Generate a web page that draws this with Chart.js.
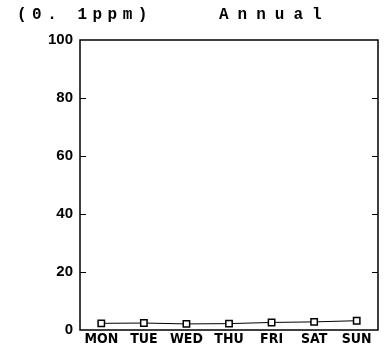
<!DOCTYPE html>
<html>
<head>
<meta charset="utf-8">
<script src="https://cdn.jsdelivr.net/npm/chart.js@4"></script>
<style>
  html, body { margin: 0; padding: 0; background: #fff; }
  #wrap { position: relative; width: 384px; height: 353px; }
  .lbl { position: absolute; font-family: 'Liberation Mono', monospace; font-size: 16px; font-weight: bold; color: #000; white-space: pre; }
</style>
</head>
<body>
<div id="wrap">
  <canvas id="chart" width="384" height="353"></canvas>
  <div class="lbl" style="left:17px; top:6px; letter-spacing:5.5px;">(0. 1ppm)</div>
  <div class="lbl" style="left:219px; top:6px; letter-spacing:9px;">Annual</div>
</div>
<script>
// weekday labels and annual means (unit: 0.1 ppm)
const days = ['MON', 'TUE', 'WED', 'THU', 'FRI', 'SAT', 'SUN'];
const annual = [2.3, 2.4, 2.1, 2.2, 2.6, 2.8, 3.2];
const yTicks = [0, 20, 40, 60, 80, 100];

// box frame plus small inward ticks on both sides
const frame = {
    id: 'frame',
    afterDatasetsDraw(chart) {
        const { ctx, chartArea: a, scales } = chart;
        ctx.save();
        ctx.strokeStyle = '#000';
        ctx.lineWidth = 1.5;
        ctx.strokeRect(a.left, a.top, a.right - a.left, a.bottom - a.top);
        ctx.lineWidth = 1;
        yTicks.forEach(v => {
            if (v === 0 || v === 100) return;
            const y = Math.round(scales.y.getPixelForValue(v)) + 0.5;
            ctx.beginPath();
            ctx.moveTo(a.left, y); ctx.lineTo(a.left + 6, y);
            ctx.moveTo(a.right, y); ctx.lineTo(a.right - 6, y);
            ctx.stroke();
        });
        ctx.restore();
    }
};

new Chart(document.getElementById('chart'), {
    type: 'line',
    data: {
        labels: days,
        datasets: [{
            data: annual,
            borderColor: '#000',
            borderWidth: 1,
            backgroundColor: '#fff',
            pointStyle: 'rect',
            pointRadius: 4.5,
            pointBorderWidth: 1.5,
            pointBorderColor: '#000',
            pointBackgroundColor: '#fff',
            tension: 0
        }]
    },
    options: {
        responsive: false,
        animation: false,
        layout: { padding: { left: 0, right: 6, top: 40, bottom: 0 } },
        plugins: { legend: { display: false }, tooltip: { enabled: false } },
        scales: {
            x: {
                offset: true,
                grid: { display: false, drawTicks: false },
                border: { display: false },
                ticks: { color: '#000', padding: 1, maxRotation: 0, font: { family: "'DejaVu Sans Condensed', 'DejaVu Sans'", size: 14, weight: 'bold' } },
                afterFit(s) { s.height = 23; }
            },
            y: {
                min: 0, max: 100,
                afterBuildTicks(s) { s.ticks = yTicks.map(v => ({ value: v })); },
                grid: { display: false, drawTicks: false },
                border: { display: false },
                ticks: { color: '#000', padding: 7, font: { family: "'Liberation Sans', Arial", size: 15, weight: 'bold' } },
                afterFit(s) { s.width = 80; }
            }
        }
    },
    plugins: [frame]
});
</script>
</body>
</html>
